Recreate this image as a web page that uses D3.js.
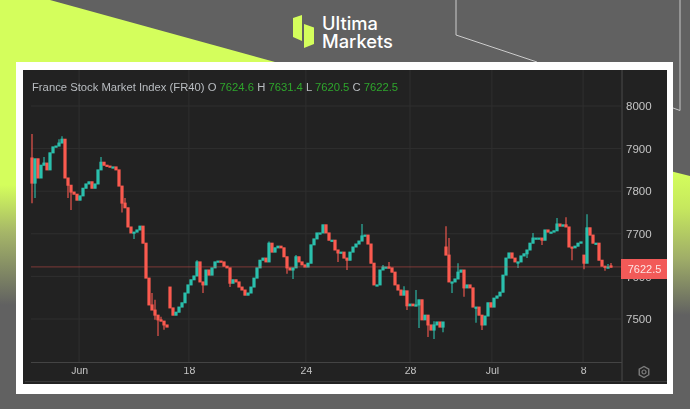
<!DOCTYPE html>
<html><head><meta charset="utf-8">
<script src="https://cdn.jsdelivr.net/npm/d3@7"></script>
<style>
html,body{margin:0;padding:0;background:#616161;overflow:hidden}
svg{display:block}
text{font-family:"Liberation Sans",Arial,sans-serif}
.domain{display:none}
.tick line{display:none}
</style></head><body>
<script>
const title = "France Stock Market Index (FR40)";
const ohlcLabels = ["O","H","L","C"];
const ohlcValues = ["7624.6","7631.4","7620.5","7622.5"];
const yTicks = [8000,7900,7800,7700,7600,7500];
const xTickLabels = ["Jun","18","24","28","Jul","8"];
const xTickIndex = [15.7,52.3,91.3,126,153.3,183.7];
const lastPrice = 7622.5;

const closes = [7819,7876,7831,7861,7866,7850,7890,7904,7906,7913,7922,7831,7814,7798,7793,7779,7789,7807,7817,7822,
7807,7817,7850,7868,7861,7859,7857,7857,7850,7812,7772,7761,7716,7702,7704,7709,7718,7678,7596,7533,
7521,7509,7498,7495,7486,7481,7526,7509,7516,7528,7538,7561,7580,7592,7601,7634,7587,7580,7615,7603,
7620,7634,7636,7634,7624,7620,7584,7592,7587,7575,7568,7556,7561,7575,7596,7620,7638,7643,7634,7678,
7657,7667,7671,7667,7646,7620,7615,7620,7646,7634,7627,7622,7631,7674,7688,7702,7702,7721,7702,7685,
7685,7662,7655,7657,7643,7638,7657,7669,7676,7683,7695,7697,7676,7631,7580,7580,7615,7622,7622,7620,
7610,7580,7568,7556,7566,7531,7535,7531,7533,7545,7498,7509,7486,7474,7486,7493,7481,7493,7650,7587,
7587,7594,7610,7615,7573,7580,7573,7528,7528,7509,7486,7507,7538,7528,7549,7554,7563,7603,7643,7655,
7643,7634,7634,7648,7653,7662,7678,7690,7690,7690,7685,7709,7704,7704,7707,7723,7718,7721,7716,7669,
7667,7671,7678,7681,7631,7714,7697,7678,7678,7638,7624,7622,7622,7622.5];
// Opens follow the previous close except where the picture shows a jump.
const openJumps = [[0,7878],[46,7575],[138,7669],[184,7650],[193,7624.6]];
const highWicks = [[0,7934],[4,7880],[9,7922],[10,7929],[23,7880],[31,7784],[40,7561],[41,7545],[43,7505],[55,7638],[79,7682],[88,7650],[110,7723],[117,7627],[119,7634],[124,7577],[128,7568],[134,7495],[138,7718],[139,7690],[142,7631],[167,7702],[175,7737],[178,7739],[185,7746],[192,7629],[193,7631.4]];
const lowWicks = [[0,7772],[1,7784],[12,7784],[13,7756],[30,7750],[34,7688],[41,7498],[42,7460],[44,7475],[57,7561],[66,7575],[85,7606],[87,7594],[102,7634],[105,7615],[125,7521],[129,7479],[132,7458],[134,7453],[137,7469],[140,7561],[144,7552],[148,7491],[150,7474],[162,7620],[165,7643],[170,7674],[180,7638],[184,7617],[191,7613],[193,7620.5]];

const W=690,H=409;
const svg=d3.select("body").append("svg").attr("width",W).attr("height",H);
const defs=svg.append("defs");
const f=defs.append("filter").attr("id","soft").attr("filterUnits","userSpaceOnUse").attr("x",0).attr("y",0).attr("width",W).attr("height",H);
f.append("feGaussianBlur").attr("stdDeviation",0.55);
const f2=defs.append("filter").attr("id","softT").attr("filterUnits","userSpaceOnUse").attr("x",0).attr("y",0).attr("width",W).attr("height",H);
f2.append("feGaussianBlur").attr("stdDeviation",0.3);

// page background
svg.append("rect").attr("width",W).attr("height",H).attr("fill","#616161");
svg.append("polygon").attr("points","0,0 50,0 275,62 0,62").attr("fill","#d4fe5c");
svg.append("rect").attr("x",0).attr("y",0).attr("width",20).attr("height",190).attr("fill","#d4fe5c");
const g2=defs.append("linearGradient").attr("id","fadeR").attr("gradientUnits","userSpaceOnUse").attr("x1",0).attr("x2",0).attr("y1",172).attr("y2",315);
g2.append("stop").attr("offset",0).attr("stop-color","#d4fe5c");
g2.append("stop").attr("offset",0.25).attr("stop-color","#c6e85e");
g2.append("stop").attr("offset",0.6).attr("stop-color","#a0ae68");
g2.append("stop").attr("offset",1).attr("stop-color","#616161");
const g3=defs.append("linearGradient").attr("id","fadeL2").attr("gradientUnits","userSpaceOnUse").attr("x1",0).attr("x2",0).attr("y1",185).attr("y2",305);
g3.append("stop").attr("offset",0).attr("stop-color","#d4fe5c");
g3.append("stop").attr("offset",0.4).attr("stop-color","#a5b568");
g3.append("stop").attr("offset",1).attr("stop-color","#616161");
svg.append("rect").attr("x",0).attr("y",185).attr("width",20).attr("height",125).attr("fill","url(#fadeL2)");
svg.append("polygon").attr("points","670,171 690,176 690,320 670,320").attr("fill","url(#fadeR)");
svg.append("polyline").attr("points","456,0 456,35 537,62").attr("fill","none").attr("stroke","#d8d8d8").attr("stroke-width",0.9);
svg.append("polyline").attr("points","673,108 680,110.5 680,0").attr("fill","none").attr("stroke","#c8c8c8").attr("stroke-width",1);

// logo
svg.append("polygon").attr("points","293,18 302,15 302,41 293,37").attr("fill","#d4fe5c");
svg.append("polygon").attr("points","304,24 314,27.5 314,44 304,48").attr("fill","#d4fe5c");
svg.append("text").attr("x",322).attr("y",30).text("Ultima").attr("fill","#fff").style("font-family","Inter").attr("font-size",18.3).attr("font-weight",500);
svg.append("text").attr("x",322).attr("y",48).text("Markets").attr("fill","#fff").style("font-family","Inter").attr("font-size",18.3).attr("font-weight",500);

// card
svg.append("rect").attr("x",16).attr("y",62).attr("width",657).attr("height",332).attr("fill","#fff");
svg.append("rect").attr("x",23).attr("y",70).attr("width",644).attr("height",314).attr("fill","#222222");
svg.append("line").attr("x1",25).attr("x2",667).attr("y1",381.5).attr("y2",381.5).attr("stroke","#383838");

const x=d3.scaleLinear().domain([0,closes.length-1]).range([32,611]);
const y=d3.scaleLinear().domain([7500,8000]).range([319,106]);

// grid
const grid=svg.append("g").attr("stroke","#2f2f2f").attr("stroke-width",1);
grid.selectAll(".h").data(yTicks).join("line").attr("x1",31).attr("x2",621).attr("y1",d=>y(d)).attr("y2",d=>y(d));
grid.selectAll(".v").data(xTickIndex).join("line").attr("x1",d=>x(d)).attr("x2",d=>x(d)).attr("y1",70).attr("y2",362);

// axis rules
svg.append("line").attr("x1",622).attr("x2",622).attr("y1",70).attr("y2",381).attr("stroke","#414141").attr("stroke-width",1.3);
svg.append("line").attr("x1",31).attr("x2",622).attr("y1",362.5).attr("y2",362.5).attr("stroke","#444").attr("stroke-width",1);

// candles
const jump=new Map(openJumps), hi=new Map(highWicks), lo=new Map(lowWicks);
const candles=closes.map((c,i)=>{
  const o=jump.has(i)?jump.get(i):closes[i-1];
  return {i,o,c,h:hi.has(i)?hi.get(i):Math.max(o,c),l:lo.has(i)?lo.get(i):Math.min(o,c)};
});
const UP="#2cc0ad",DOWN="#fb5a50";
const marks=svg.append("g").attr("filter","url(#soft)");
marks.selectAll(".w").data(candles).join("line")
  .attr("x1",d=>x(d.i)).attr("x2",d=>x(d.i)).attr("y1",d=>y(d.h)).attr("y2",d=>y(d.l))
  .attr("stroke",d=>d.c>=d.o?UP:DOWN).attr("stroke-width",1.1);
marks.selectAll(".b").data(candles).join("rect")
  .attr("x",d=>x(d.i)-1.6).attr("width",3.2)
  .attr("y",d=>y(Math.max(d.o,d.c))-0.5).attr("height",d=>Math.max(2.2,Math.abs(y(d.o)-y(d.c))+1))
  .attr("fill",d=>d.c>=d.o?UP:DOWN);

// price line
svg.append("line").attr("x1",31).attr("x2",622).attr("y1",y(lastPrice)).attr("y2",y(lastPrice)).attr("stroke","#f4574f").attr("stroke-opacity",0.35).attr("stroke-width",1.2);

// axes
const yAxis=d3.axisRight(y).tickValues(yTicks).tickSize(0).tickPadding(0).tickFormat(d3.format("d"));
const yg=svg.append("g").attr("transform","translate(626,0)").attr("filter","url(#softT)").call(yAxis);
yg.selectAll("text").attr("fill","#c4c4c4").attr("font-size",11.5).style("font-family","Liberation Sans");
const xAxis=d3.axisBottom(x).tickValues(xTickIndex).tickSize(0).tickPadding(0).tickFormat((d,i)=>xTickLabels[i]);
const xg=svg.append("g").attr("transform","translate(0,367)").attr("filter","url(#softT)").call(xAxis);
xg.selectAll("text").attr("fill","#c4c4c4").attr("font-size",10.5).style("font-family","Liberation Sans");

// last price tag
svg.append("rect").attr("x",621).attr("y",259).attr("width",46).attr("height",20).attr("fill","#f25a58");
svg.append("text").attr("x",644.5).attr("y",273).attr("text-anchor","middle").attr("fill","#fde5e4").attr("font-size",11).attr("filter","url(#softT)").text(d3.format(".1f")(lastPrice));

// header
const hdr=svg.append("text").attr("x",32).attr("y",91).attr("font-size",11.25).attr("fill","#b9bdc1").attr("filter","url(#softT)");
hdr.append("tspan").text(title);
ohlcLabels.forEach((l,i)=>{
  hdr.append("tspan").text(" "+l+" ");
  hdr.append("tspan").attr("fill","#2ea52c").text(ohlcValues[i]);
});

// settings gear
const gear=svg.append("g").attr("transform","translate(644,372)").attr("fill","none").attr("stroke","#7d7d7d");
gear.append("path").attr("d",d3.line()(d3.range(6).map(k=>[5.5*Math.cos(Math.PI/6+k*Math.PI/3),5.5*Math.sin(Math.PI/6+k*Math.PI/3)]))+"Z").attr("stroke-width",1.4);
gear.append("circle").attr("r",2).attr("stroke-width",1.2);
</script>
</body></html>
